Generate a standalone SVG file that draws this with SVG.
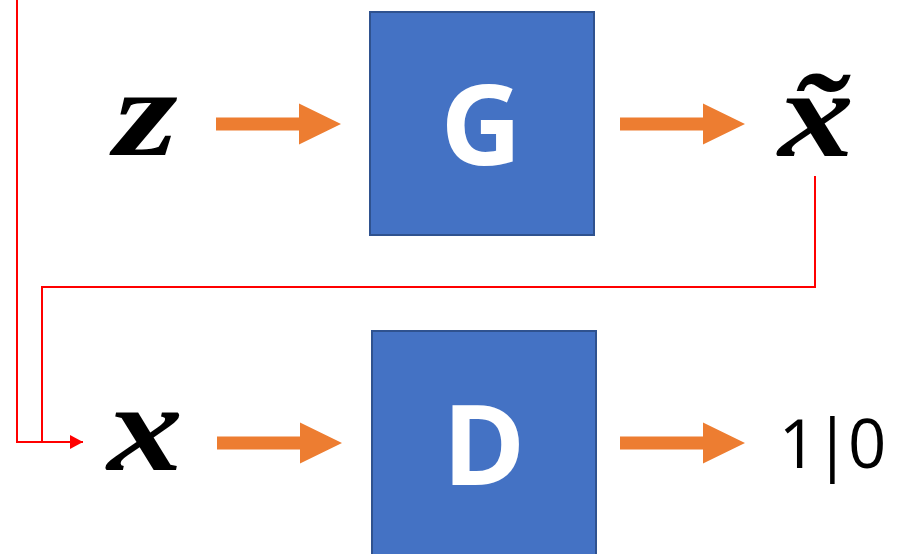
<svg xmlns="http://www.w3.org/2000/svg" width="904" height="554" viewBox="0 0 904 554">
<style>
.box{fill:#4472C4;stroke:#2F528F;stroke-width:2}
.lbl{font-family:"Open Sans","DejaVu Sans",sans-serif;font-weight:bold;font-size:112px;fill:#fff;text-anchor:middle}
.math{font-family:"Liberation Serif","DejaVu Serif",serif;font-style:italic;font-weight:bold;font-size:126px;fill:#000;text-anchor:middle}
.num{font-family:"Open Sans","Liberation Sans",sans-serif;font-size:67px;fill:#000;text-anchor:middle;letter-spacing:-3px}
.orange{fill:#ED7D31}
.red{fill:none;stroke:#FF0000;stroke-width:2}
</style>
<defs>
<marker id="rh" markerWidth="13" markerHeight="14" refX="13" refY="7" orient="auto" markerUnits="userSpaceOnUse">
<path d="M0,0 L13,7 L0,14 Z" fill="#FF0000"/>
</marker>
<path id="oarrow" d="M0,-6.5 L83,-6.5 L83,-20.5 L125,0 L83,20.5 L83,6.5 L0,6.5 Z"/>
</defs>
<g id="connectors">
<use href="#oarrow" class="orange" x="216" y="124"/>
<use href="#oarrow" class="orange" x="620" y="124"/>
<use href="#oarrow" class="orange" x="217" y="443"/>
<use href="#oarrow" class="orange" x="620" y="443"/>
<path class="red" d="M17,0 L17,442 L83,442" marker-end="url(#rh)"/>
<path class="red" d="M815,176 L815,287 L42,287 L42,442"/>
</g>
<g id="G">
<rect class="box" x="370" y="12" width="224" height="223"/>
<text class="lbl" x="481" y="165">G</text>
</g>
<g id="D">
<rect class="box" x="372" y="331" width="224" height="240"/>
<text class="lbl" x="484" y="485">D</text>
</g>
<g id="z">
<text class="math" transform="translate(146,155) scale(1.3,1)" x="0" y="0">z</text>
</g>
<g id="xtilde">
<text class="math" transform="translate(816,156) scale(1.2,1)" x="0" y="0">x̃</text>
</g>
<g id="x">
<text class="math" transform="translate(145,470) scale(1.2,1)" x="0" y="0">x</text>
</g>
<g id="out">
<text class="num" x="831" y="468">1|0</text>
</g>
</svg>
